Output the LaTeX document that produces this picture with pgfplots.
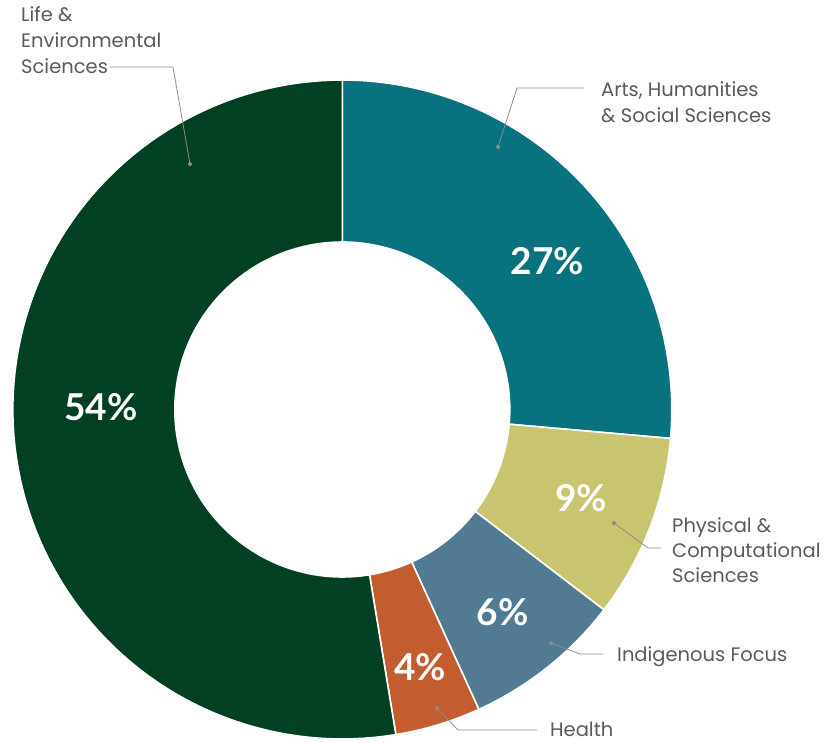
\documentclass[border=0pt]{standalone}
\usepackage{fontspec}
\setmainfont{Lato}
\newfontfamily\lblfont{Poppins}
\usepackage{pgfplots}
\usepackage{pgfplotstable}
\pgfplotsset{compat=1.18}

\definecolor{cLife}{HTML}{024024}
\definecolor{cArts}{HTML}{08727E}
\definecolor{cPhys}{HTML}{C9C46F}
\definecolor{cInd}{HTML}{527A93}
\definecolor{cHealth}{HTML}{C35C2E}
\definecolor{txt}{HTML}{595A5C}
\definecolor{lead}{HTML}{8C8C8C}

% shares as drawn (percent of the full circle), clockwise from the top
\pgfplotstableread{
name value
Arts 26.4
Physical 9.0
Indigenous 7.8
Health 4.2
Life 52.6
}\shares

\def\cx{342.3}\def\cy{332.5}\def\Ro{329.5}\def\Ri{167.5}

\newcommand\donutwedge[3]{%
  \addplot[fill=#3, draw=white, line width=1.6pt, variable=\t, samples at={0,1,...,201}]
  ({\cx + ifthenelse(\t<100.5,\Ro,\Ri)*cos(ifthenelse(\t<100.5, (#1)+((#2)-(#1))*\t/100, (#2)+((#1)-(#2))*(\t-101)/100))},
   {\cy + ifthenelse(\t<100.5,\Ro,\Ri)*sin(ifthenelse(\t<100.5, (#1)+((#2)-(#1))*\t/100, (#2)+((#1)-(#2))*(\t-101)/100))}) -- cycle;
}

\tikzset{
  lbl/.style={anchor=base west, text=txt, inner sep=0pt, font=\lblfont\fontsize{19.5}{24}\selectfont},
  pct/.style={anchor=base, text=white, inner sep=0pt, font=\fontsize{37}{40}\selectfont\bfseries},
  leader/.style={lead, line width=0.8pt, mark=*, mark size=1.9pt, mark options={fill=lead, draw=lead, solid}},
}

\begin{document}
\begin{tikzpicture}
\useasboundingbox (0,0) rectangle (840pt,742pt);
\pgfmathsetmacro\angA{90}
\pgfplotstablegetelem{0}{value}\of\shares \pgfmathsetmacro\angB{\angA-3.6*\pgfplotsretval}
\pgfplotstablegetelem{1}{value}\of\shares \pgfmathsetmacro\angC{\angB-3.6*\pgfplotsretval}
\pgfplotstablegetelem{2}{value}\of\shares \pgfmathsetmacro\angD{\angC-3.6*\pgfplotsretval}
\pgfplotstablegetelem{3}{value}\of\shares \pgfmathsetmacro\angE{\angD-3.6*\pgfplotsretval}
\pgfplotstablegetelem{4}{value}\of\shares \pgfmathsetmacro\angF{\angE-3.6*\pgfplotsretval}
\begin{axis}[
  at={(0,0)}, anchor=south west,
  x=1pt, y=1pt, xmin=0, xmax=840, ymin=0, ymax=742,
  hide axis, clip=false,
]
\donutwedge{\angA}{\angB}{cArts}
\donutwedge{\angB}{\angC}{cPhys}
\donutwedge{\angC}{\angD}{cInd}
\donutwedge{\angD}{\angE}{cHealth}
\donutwedge{\angE}{\angF}{cLife}

% leader lines
\addplot[leader, mark indices={3}] coordinates {(110,675) (173,675) (190,578)};
\addplot[leader, mark indices={3}] coordinates {(584,654) (517,654) (498,595)};
\addplot[leader, mark indices={1}] coordinates {(614,219) (648,194) (661,194)};
\addplot[leader, mark indices={1}] coordinates {(551,99) (580,88) (603,88)};
\addplot[leader, mark indices={1}] coordinates {(437,34) (458,12) (537,12)};

% category labels
\node[lbl] at (axis cs:21,720) {Life \&};
\node[lbl] at (axis cs:21,694) {Environmental};
\node[lbl] at (axis cs:21,668) {Sciences};
\node[lbl] at (axis cs:601,645) {Arts, Humanities};
\node[lbl] at (axis cs:601,619) {\& Social Sciences};
\node[lbl] at (axis cs:672,210) {Physical \&};
\node[lbl] at (axis cs:672,185) {Computational};
\node[lbl] at (axis cs:672,160) {Sciences};
\node[lbl] at (axis cs:617,81) {Indigenous Focus};
\node[lbl] at (axis cs:550,6) {Health};

% percentages
\node[pct] at (axis cs:547.5,467) {27\%};
\node[pct] at (axis cs:101,321.3) {54\%};
\node[pct] at (axis cs:581,231) {9\%};
\node[pct] at (axis cs:502.5,117) {6\%};
\node[pct] at (axis cs:420,62) {4\%};
\end{axis}
\end{tikzpicture}
\end{document}
